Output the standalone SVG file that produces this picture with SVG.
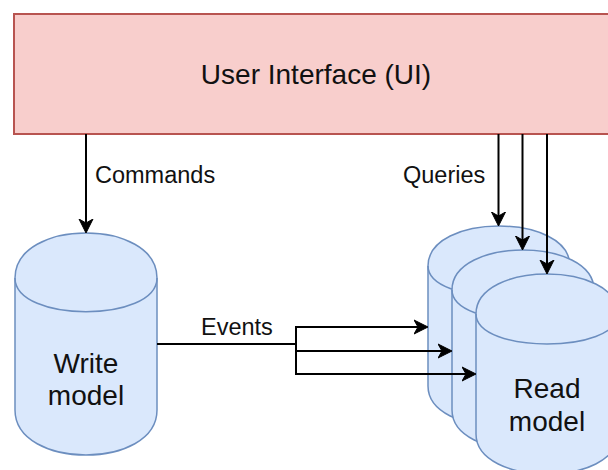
<svg xmlns="http://www.w3.org/2000/svg" width="608" height="470" viewBox="0 0 608 470">
  <style>
    .ui { fill: #f8cecc; stroke: #b85450; stroke-width: 2; }
    .cyl { fill: #dae8fc; stroke: #6c8ebf; stroke-width: 1.5; }
    .rim { fill: none; stroke: #6c8ebf; stroke-width: 1.5; }
    .edge { fill: none; stroke: #000; stroke-width: 2; }
    .big { font-family: "Liberation Sans", Arial, sans-serif; font-size: 28px; fill: #111; text-anchor: middle; }
    .lbl { font-family: "Liberation Sans", Arial, sans-serif; font-size: 23.5px; fill: #111; }
  </style>
  <defs>
    <marker id="arrow" markerUnits="userSpaceOnUse" markerWidth="16" markerHeight="16" refX="8" refY="8" orient="auto">
      <path d="M0,1 L14,8 L0,15 L4,8 Z" fill="#000" stroke="#000" stroke-width="1" stroke-linejoin="miter"/>
    </marker>
  </defs>
  <rect width="608" height="470" fill="#fff"/>

  <!-- top box -->
  <g id="ui">
    <rect class="ui" x="14" y="14" width="604" height="120"/>
    <text class="big" x="316" y="84">User Interface (UI)</text>
  </g>

  <!-- write side store -->
  <g id="write-model">
    <path class="cyl" d="M15,278 C15,218 157,218 157,278 L157,410 C157,470 15,470 15,410 Z"/>
    <path class="rim" d="M15,278 C15,323 157,323 157,278"/>
    <text class="big" x="86" y="373">Write</text>
    <text class="big" x="86" y="405">model</text>
  </g>

  <!-- stacked read side stores, back to front -->
  <g id="read-model-1">
    <path class="cyl" d="M428,266 C428,212.7 570,212.7 570,266 L570,386 C570,439.3 428,439.3 428,386 Z"/>
    <path class="rim" d="M428,266 C428,306 570,306 570,266"/>
  </g>
  <g id="read-model-2">
    <path class="cyl" d="M452,290 C452,236.7 594,236.7 594,290 L594,410 C594,463.3 452,463.3 452,410 Z"/>
    <path class="rim" d="M452,290 C452,330 594,330 594,290"/>
  </g>
  <g id="read-model-3">
    <path class="cyl" d="M476,314 C476,260.7 618,260.7 618,314 L618,434 C618,487.3 476,487.3 476,434 Z"/>
    <path class="rim" d="M476,314 C476,354 618,354 618,314"/>
    <text class="big" x="547" y="398">Read</text>
    <text class="big" x="547" y="431">model</text>
  </g>

  <!-- connectors -->
  <g id="connectors">
    <path class="edge" d="M86,134 V227" marker-end="url(#arrow)"/>
    <path class="edge" d="M498.5,134 V220" marker-end="url(#arrow)"/>
    <path class="edge" d="M522.5,134 V244" marker-end="url(#arrow)"/>
    <path class="edge" d="M547,134 V268" marker-end="url(#arrow)"/>
    <path class="edge" d="M157,344 H296 V327 H422" marker-end="url(#arrow)"/>
    <path class="edge" d="M157,344 H296 V351 H446" marker-end="url(#arrow)"/>
    <path class="edge" d="M157,344 H296 V374 H470" marker-end="url(#arrow)"/>
    <text class="lbl" x="95" y="183">Commands</text>
    <text class="lbl" x="403" y="183">Queries</text>
    <text class="lbl" x="201" y="335">Events</text>
  </g>
</svg>
